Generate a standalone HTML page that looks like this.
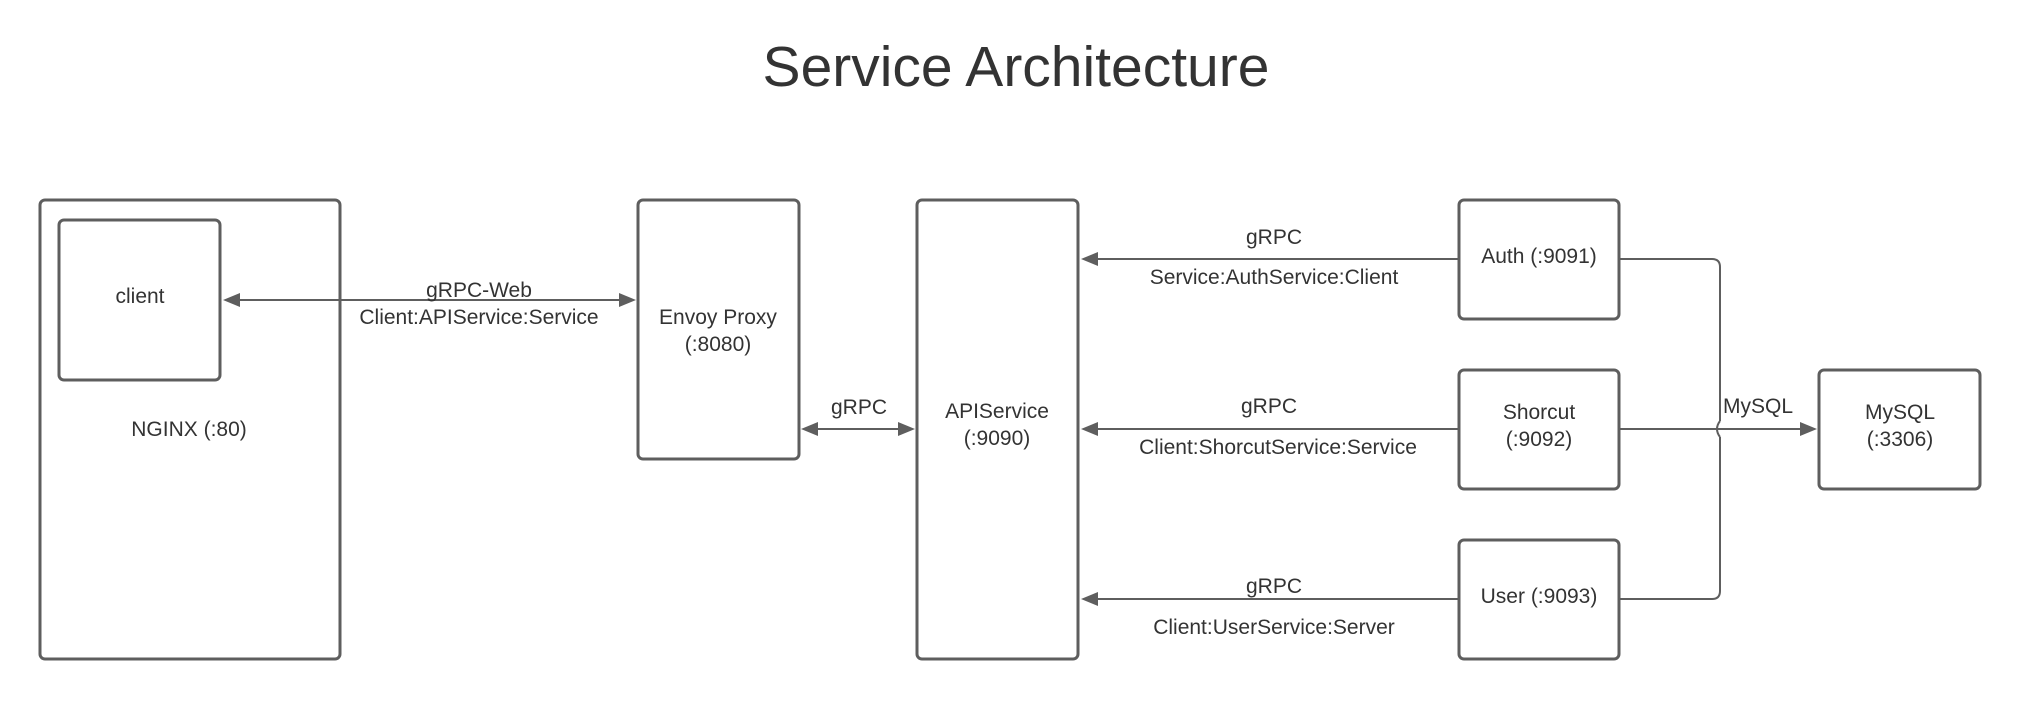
<!DOCTYPE html>
<html><head><meta charset="utf-8"><style>
html,body{margin:0;padding:0;background:#fff;}
svg{display:block;}
text{font-family:"Liberation Sans",Arial,sans-serif;fill:#333;}
</style></head><body>
<svg width="2020" height="704" viewBox="0 0 2020 704" xmlns="http://www.w3.org/2000/svg">
<defs>
<marker id="a" viewBox="0 0 10 10" refX="10" refY="5" markerWidth="6" markerHeight="6" orient="auto-start-reverse" markerUnits="userSpaceOnUse" style="overflow:visible">
</marker>
</defs>
<text x="1016" y="86" font-size="57" text-anchor="middle">Service Architecture</text>
<g fill="none" stroke="#5e5e5e" stroke-width="3">
<rect x="40" y="200" width="300" height="459" rx="5"/>
<rect x="59" y="220" width="161" height="160" rx="5"/>
<rect x="638" y="200" width="161" height="259" rx="5"/>
<rect x="917" y="200" width="161" height="459" rx="5"/>
<rect x="1459" y="200" width="160" height="119" rx="5"/>
<rect x="1459" y="370" width="160" height="119" rx="5"/>
<rect x="1459" y="540" width="160" height="119" rx="5"/>
<rect x="1819" y="370" width="161" height="119" rx="5"/>
</g>
<g stroke="#5e5e5e" stroke-width="2" fill="none">
<line x1="238" y1="300" x2="620" y2="300"/>
<line x1="816" y1="429" x2="900" y2="429"/>
<line x1="1096" y1="259" x2="1458" y2="259"/>
<line x1="1096" y1="429" x2="1458" y2="429"/>
<line x1="1096" y1="599" x2="1458" y2="599"/>
<path d="M1620 259 H1712 Q1720 259 1720 267 V421 M1720 437 V591 Q1720 599 1712 599 H1620"/>
<path d="M1720 421 Q1714 429 1720 437"/>
<path d="M1620 429 H1802"/>
</g>
<g fill="#5e5e5e">
<polygon points="223,300 240,293 240,307"/>
<polygon points="636,300 619,293 619,307"/>
<polygon points="801,429 818,422 818,436"/>
<polygon points="915,429 898,422 898,436"/>
<polygon points="1081,259 1098,252 1098,266"/>
<polygon points="1081,429 1098,422 1098,436"/>
<polygon points="1081,599 1098,592 1098,606"/>
<polygon points="1817,429 1800,422 1800,436"/>
</g>
<g font-size="21" text-anchor="middle">
<text x="140" y="303">client</text>
<text x="189" y="436">NGINX (:80)</text>
<text x="718" y="324">Envoy Proxy</text>
<text x="718" y="351">(:8080)</text>
<text x="997" y="418">APIService</text>
<text x="997" y="445">(:9090)</text>
<text x="1539" y="263">Auth (:9091)</text>
<text x="1539" y="419">Shorcut</text>
<text x="1539" y="446">(:9092)</text>
<text x="1539" y="603">User (:9093)</text>
<text x="1900" y="419">MySQL</text>
<text x="1900" y="446">(:3306)</text>
<text x="479" y="297">gRPC-Web</text>
<text x="479" y="324">Client:APIService:Service</text>
<text x="859" y="414">gRPC</text>
<text x="1274" y="244">gRPC</text>
<text x="1274" y="284">Service:AuthService:Client</text>
<text x="1269" y="413">gRPC</text>
<text x="1278" y="454">Client:ShorcutService:Service</text>
<text x="1274" y="593">gRPC</text>
<text x="1274" y="634">Client:UserService:Server</text>
<text x="1758" y="413">MySQL</text>
</g>
</svg>
</body></html>
